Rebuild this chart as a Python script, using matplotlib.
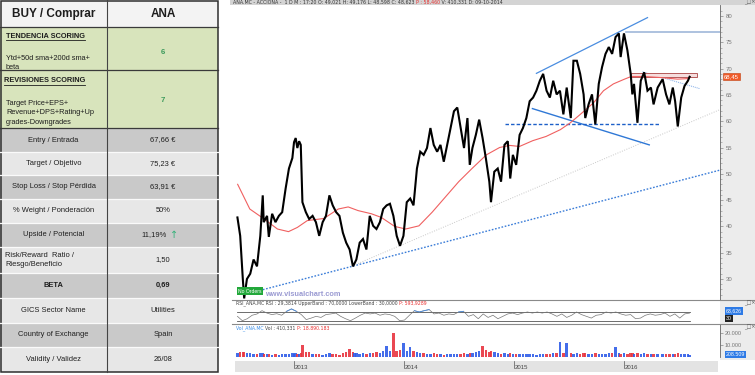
import numpy as np
import matplotlib
matplotlib.use('Agg')
import matplotlib.pyplot as plt
from matplotlib.patches import Rectangle
from matplotlib.lines import Line2D
import matplotlib.transforms as mtransforms

plt.rcParams['font.family'] = ['Liberation Sans', 'DejaVu Sans']

W, H = 755, 375

# ---------------- table data ----------------
header = ['BUY / Comprar', 'ANA']
score_titles = ['TENDENCIA SCORING', 'REVISIONES SCORING']
score_texts = ['Ytd+50d sma+200d sma+\nbeta',
               'Target Price+EPS+\nRevenue+DPS+Rating+Up\ngrades-Downgrades']
score_values = ['6', '7']
row_labels = ['Entry / Entrada', 'Target / Objetivo', 'Stop Loss / Stop Pérdida',
              '% Weight / Ponderación', 'Upside / Potencial',
              'Risk/Reward  Ratio /\nRiesgo/Beneficio', 'BETA', 'GICS Sector Name',
              'Country of Exchange', 'Validity / Validez']
row_values = ['67,66 €', '75,23 €', '63,91 €', '50%', '11,19%', '1,50', '0,69',
              'Utilities', 'Spain', '26/08']

# ---------------- price data (decimal year, close) ----------------
price_years = [
    2012.488, 2012.513, 2012.537, 2012.549, 2012.574, 2012.604, 2012.634, 2012.665, 2012.695, 2012.717,
    2012.726, 2012.756, 2012.772, 2012.802, 2012.832, 2012.863, 2012.893, 2012.924, 2012.954, 2012.985,
    2013.000, 2013.015, 2013.030, 2013.046, 2013.061, 2013.076, 2013.107, 2013.137, 2013.168, 2013.198,
    2013.228, 2013.259, 2013.289, 2013.320, 2013.350, 2013.381, 2013.411, 2013.442, 2013.472, 2013.503,
    2013.533, 2013.548, 2013.564, 2013.594, 2013.624, 2013.655, 2013.685, 2013.716, 2013.746, 2013.777,
    2013.807, 2013.838, 2013.868, 2013.899, 2013.929, 2013.959, 2013.990, 2014.020, 2014.051, 2014.081,
    2014.112, 2014.142, 2014.173, 2014.203, 2014.234, 2014.264, 2014.295, 2014.325, 2014.355, 2014.386,
    2014.416, 2014.447, 2014.477, 2014.508, 2014.538, 2014.569, 2014.590, 2014.614, 2014.645, 2014.675,
    2014.706, 2014.736, 2014.767, 2014.782, 2014.812, 2014.843, 2014.873, 2014.904, 2014.934, 2014.956,
    2014.980, 2015.010, 2015.041, 2015.071, 2015.102, 2015.132, 2015.163, 2015.193, 2015.224, 2015.254,
    2015.285, 2015.315, 2015.345, 2015.376, 2015.406, 2015.437, 2015.467, 2015.504, 2015.528, 2015.559,
    2015.589, 2015.620, 2015.635, 2015.665, 2015.696, 2015.726, 2015.757, 2015.787, 2015.818, 2015.848,
    2015.878, 2015.909, 2015.939, 2015.955, 2015.985, 2016.016, 2016.046, 2016.061, 2016.076, 2016.107,
    2016.137, 2016.168, 2016.198, 2016.229, 2016.253, 2016.290, 2016.335, 2016.366, 2016.396, 2016.427,
    2016.448, 2016.472, 2016.503, 2016.533, 2016.564, 2016.579]
closes = [
    41.7, 38.2, 29.9, 26.3, 30.0, 31.0, 33.7, 32.4, 38.2, 45.9,
    40.8, 42.0, 38.0, 42.4, 40.8, 42.0, 42.7, 47.2, 51.0, 53.0,
    56.0, 56.8, 54.9, 56.2, 55.5, 44.6, 42.7, 41.4, 42.0, 40.8,
    38.2, 40.8, 42.0, 45.9, 44.0, 42.7, 42.0, 38.8, 36.9, 35.6,
    32.4, 33.0, 33.7, 36.9, 37.6, 35.6, 42.0, 40.1, 39.5, 40.8,
    43.3, 44.0, 44.3, 42.0, 38.2, 36.3, 38.2, 44.6, 45.3, 44.0,
    51.0, 54.2, 53.6, 54.9, 58.7, 55.5, 54.2, 55.5, 52.3, 55.5,
    58.7, 61.9, 62.6, 58.7, 54.9, 60.6, 51.7, 54.9, 57.4, 60.3,
    56.8, 52.9, 48.5, 44.6, 50.4, 51.0, 48.5, 55.5, 56.2, 49.1,
    53.6, 51.7, 57.4, 58.7, 60.6, 63.8, 64.5, 65.8, 67.7, 69.0,
    65.8, 64.5, 67.7, 65.1, 65.8, 61.3, 66.4, 60.6, 71.5, 71.5,
    69.0, 65.1, 60.6, 63.2, 65.1, 59.4, 67.1, 70.3, 72.8, 74.1,
    72.8, 76.0, 76.7, 72.2, 76.7, 73.5, 69.0, 65.1, 67.1, 59.7,
    67.7, 69.3, 65.8, 66.4, 63.2, 66.4, 68.0, 65.1, 63.2, 66.4,
    63.8, 59.0, 64.5, 66.7, 67.7, 68.45]
volumes_k = [
    3.5, 4.2, 3.8, 4.5, 3.2, 3.0, 2.6, 2.8, 3.4, 3.0,
    2.5, 2.2, 2.8, 2.0, 2.4, 1.8, 2.2, 2.6, 2.4, 3.0,
    2.8, 3.2, 2.6, 2.4, 3.6, 10.0, 4.5, 3.8, 2.6, 2.2,
    2.4, 2.0, 2.6, 3.0, 2.2, 2.4, 2.0, 3.4, 3.8, 6.8,
    4.0, 3.6, 3.2, 2.8, 3.0, 2.6, 3.2, 3.6, 4.2, 3.4,
    5.0, 9.4, 4.6, 20.0, 5.2, 6.0, 12.0, 5.4, 8.0, 4.8,
    4.0, 3.6, 3.0, 2.6, 2.8, 3.2, 2.4, 2.2, 2.0, 2.6,
    2.4, 2.2, 2.6, 2.8, 3.0, 2.6, 3.4, 3.0, 4.2, 5.0,
    9.0, 5.6, 4.4, 5.2, 3.8, 3.0, 2.8, 3.2, 2.6, 3.4,
    2.8, 2.4, 2.6, 2.8, 2.4, 2.2, 2.6, 2.0, 2.4, 2.2,
    2.6, 2.8, 3.0, 3.6, 12.6, 3.2, 12.0, 3.0, 2.6, 3.2,
    2.8, 3.6, 3.4, 2.8, 2.4, 3.0, 2.6, 2.8, 2.4, 3.0,
    3.4, 8.0, 3.2, 2.8, 3.0, 2.6, 3.0, 3.4, 2.8, 3.6,
    2.8, 3.0, 2.6, 2.4, 2.8, 2.6, 2.4, 2.8, 2.6, 2.2,
    2.4, 3.0, 2.6, 2.2, 2.4, 2.0]

# 200 day moving average
ma_years = [2012.49, 2012.60, 2012.73, 2012.85, 2012.95, 2013.03, 2013.12, 2013.27, 2013.40, 2013.49,
            2013.58, 2013.70, 2013.79, 2013.91, 2014.01, 2014.13, 2014.25, 2014.37, 2014.49, 2014.61,
            2014.74, 2014.86, 2014.95, 2015.04, 2015.16, 2015.28, 2015.41, 2015.50, 2015.59, 2015.71,
            2015.80, 2015.89, 2015.99, 2016.05, 2016.17, 2016.32, 2016.47, 2016.56]
ma_values = [48.0, 43.3, 41.4, 39.5, 39.0, 39.8, 41.1, 41.5, 43.3, 43.7,
             43.0, 42.4, 41.7, 40.0, 39.5, 40.1, 42.7, 45.6, 48.5, 51.0,
             53.6, 55.0, 55.4, 55.2, 56.3, 57.1, 58.4, 59.7, 61.3, 63.5,
             65.8, 67.1, 68.0, 68.5, 68.5, 68.3, 68.0, 68.1]

# RSI (evenly spaced over the price period)
rsi = [50, 30, 39, 55, 61, 76, 65, 58, 62, 55, 73, 84, 73, 58, 35, 42, 50, 45, 58, 61,
       65, 50, 39, 30, 42, 55, 65, 61, 65, 55, 61, 58, 50, 30, 33, 55, 76, 70, 76, 81,
       61, 65, 55, 61, 58, 70, 73, 50, 58, 39, 61, 45, 55, 39, 50, 61, 65, 58, 65, 70,
       65, 70, 65, 70, 61, 50, 61, 45, 55, 70, 58, 50, 42, 55, 58, 70, 65, 70, 61, 55,
       58, 39, 42, 55, 61, 55, 58, 65, 50, 61, 42, 61, 65]
rsi_upper, rsi_lower = 70, 30

# drawn studies: (year0, price0, year1, price1)
support_long = (2012.543, 27.0, 2016.853, 50.7)
support_thin = (2013.518, 32.4, 2016.853, 62.2)
channel_top = (2015.193, 69.1, 2016.198, 79.7)
channel_bottom = (2015.157, 62.4, 2016.214, 55.5)
floor_line = (2014.913, 59.4, 2016.305, 59.4)
peak_line = (2016.000, 76.9, 2016.853, 76.9)
short_down = (2016.153, 69.4, 2016.670, 66.2)
entry_zone = (2016.052, 68.4, 2016.649, 69.2)
last_price = 68.45
years = [2013, 2014, 2015, 2016]

fig = plt.figure(figsize=(W / 100, H / 100), dpi=100)
fig.patch.set_facecolor('white')


def px_axes(x0, y0, x1, y1, **kw):
    return fig.add_axes([x0 / W, 1 - y1 / H, (x1 - x0) / W, (y1 - y0) / H], **kw)


def fig_rect(x0, y0, x1, y1, **kw):
    fig.patches.append(Rectangle((x0 / W, 1 - y1 / H), (x1 - x0) / W, (y1 - y0) / H,
                                 transform=fig.transFigure, **kw))


def fig_hline(y, x0, x1, **kw):
    fig.lines.append(Line2D([x0 / W, x1 / W], [1 - y / H, 1 - y / H],
                            transform=fig.transFigure, **kw))


renderer = fig.canvas.get_renderer()


def put_segments(x, y, segments, size):
    # consecutive pieces of text in different colours
    for s, c in segments:
        t = fig.text(x / W, 1 - y / H, s, fontsize=size, color=c, va='center', ha='left',
                     family=['DejaVu Sans'])
        x += t.get_window_extent(renderer).width


# ---------------- table ----------------
tax = fig.add_axes([0, 0, 230 / W, 1])
tax.set_xlim(0, 230)
tax.set_ylim(H, 0)
tax.axis('off')

c1, c2, right = 107, 163, 218
tax.add_patch(Rectangle((0, 0), right, 27, fc='#f3f3f3', ec='none'))
tax.add_patch(Rectangle((0, 27), right, 43, fc='#d8e4bc', ec='none'))
tax.add_patch(Rectangle((0, 70), right, 58, fc='#d8e4bc', ec='none'))
row_edges = [128, 152, 175, 199, 223, 247, 273, 298, 323, 347, 372]
for i in range(len(row_labels)):
    top, bot = row_edges[i], row_edges[i + 1]
    tax.add_patch(Rectangle((0, top), right, bot - top,
                            fc='#c9c9c9' if i % 2 == 0 else '#e7e7e7', ec='none'))
    if i > 0:
        tax.plot([0, right], [top, top], color='#fafafa', lw=0.9)
for y in [27, 70, 128]:
    tax.plot([0, right], [y, y], color='#3a3a3a', lw=0.9)
tax.plot([c1, c1], [0, 372], color='#444444', lw=0.8)
tax.add_patch(Rectangle((0.5, 0.5), right - 0.5, 371.5, fc='none', ec='#2f2f2f', lw=1.1))

txt = '#1e1e1e'
tax.text(c1 / 2, 14, header[0], ha='center', va='center', fontsize=8.5, fontweight='bold', color=txt)
tax.text(c2, 14, header[1], ha='center', va='center', fontsize=8.5, fontweight='bold', color=txt)

title_pos = [(6, 36), (4, 81)]
body_pos = [(6, 55), (6, 100)]
value_pos = [52, 100]
for (tx, ty), (bx, by), vy, t, b, v in zip(title_pos, body_pos, value_pos,
                                           score_titles, score_texts, score_values):
    h = tax.text(tx, ty, t, ha='left', va='center', fontsize=5.3, fontweight='bold', color=txt)
    bb = h.get_window_extent(renderer).transformed(tax.transData.inverted())
    tax.plot([bb.x0, bb.x1], [bb.y0 + 0.8, bb.y0 + 0.8], color=txt, lw=0.6)
    tax.text(bx, by, b, ha='left', va='top', fontsize=5.3, color=txt, linespacing=1.45)
    tax.text(c2, vy, v, ha='center', va='center', fontsize=5.6, fontweight='bold', color='#3d9a5c')

for i, (lab, val) in enumerate(zip(row_labels, row_values)):
    yc = (row_edges[i] + row_edges[i + 1]) / 2
    bold = 'bold' if lab == 'BETA' else 'normal'
    if '\n' in lab:
        tax.text(5, yc, lab, ha='left', va='center', fontsize=5.4, color=txt, linespacing=1.3)
    else:
        tax.text(c1 / 2, yc, lab, ha='center', va='center', fontsize=5.4, color=txt, fontweight=bold)
    if lab.startswith('Upside'):
        tax.text(167, yc, val, ha='right', va='center', fontsize=5.4, color=txt)
        tax.text(170, yc, '↑', ha='left', va='center', fontsize=7, color='#35b27a',
                 family=['DejaVu Sans'])
    else:
        tax.text(c2, yc, val, ha='center', va='center', fontsize=5.4, color=txt, fontweight=bold)

# ---------------- chart frame ----------------
fig_rect(230, 0, 755, 5, fc='#d4d4d4', ec='none', zorder=-1)
fig_rect(720, 5, 755, 360, fc='#ececec', ec='none', zorder=-1)
put_segments(233, 1.8, [('ANA.MC - ACCIONA -  1 D M : 17:20 O: 49,021 H: 49,176 L: 48,598 C: 48,623 ', '#333333'),
                        ('P : 58,460', '#e83030'),
                        (' V: 410,331 D: 09-10-2014', '#333333')], 3.4)
fig.text(744 / W, 1 - 2 / H, '_□×', fontsize=3.6, color='#555555', va='center', family=['DejaVu Sans'])

xlim = (2012.466, 2016.854)

# ---------------- price panel ----------------
ax = px_axes(235, 5, 720, 300)
ax.set_xlim(*xlim)
ax.set_ylim(26.0, 82.1)
for s in ['top', 'left', 'bottom']:
    ax.spines[s].set_visible(False)
ax.spines['right'].set_color('#666666')
ax.spines['right'].set_linewidth(0.6)
ax.yaxis.tick_right()
ax.set_xticks([])
ax.set_yticks(range(30, 81, 5))
ax.set_yticks(range(27, 82), minor=True)
ax.tick_params(axis='y', which='major', length=2.5, width=0.5, colors='#888888',
               labelsize=4.3, pad=1.5, labelcolor='#777777')
ax.tick_params(axis='y', which='minor', length=1.2, width=0.4, colors='#888888')


def seg(line, **kw):
    ax.plot([line[0], line[2]], [line[1], line[3]], **kw)


seg(support_long, color='#3b7dd8', lw=1.0, ls=(0, (1.2, 1.2)))
seg(support_thin, color='#c8c8c8', lw=0.7, ls=(0, (1, 1.5)))
seg(channel_top, color='#4a8de0', lw=0.9)
seg(channel_bottom, color='#2f78d6', lw=1.0)
seg(floor_line, color='#1c5fc8', lw=1.0, ls=(0, (2.5, 1.5)))
seg(peak_line, color='#9fb7d9', lw=1.2)
seg(short_down, color='#7aa7e6', lw=0.7, ls=(0, (1, 1)))
ax.add_patch(Rectangle((entry_zone[0], entry_zone[1]), entry_zone[2] - entry_zone[0],
                       entry_zone[3] - entry_zone[1], fc='#f6dede', ec='#b35a5a', lw=0.7, zorder=2))
ax.plot(ma_years, ma_values, color='#f06060', lw=0.8, zorder=3)
ax.plot(price_years, closes, color='black', lw=1.5, zorder=4, solid_joinstyle='miter')

blend = mtransforms.blended_transform_factory(ax.transAxes, ax.transData)
ax.text(1.008, last_price, '68,45', transform=blend, fontsize=4.3, color='white', va='center',
        ha='left', bbox=dict(boxstyle='square,pad=0.2', fc='#f05a28', ec='#c04010', lw=0.4),
        clip_on=False)
ax.text(0.007, 0.03, 'No Orders', transform=ax.transAxes, fontsize=3.6, color='white', va='center',
        ha='left', bbox=dict(boxstyle='square,pad=0.25', fc='#22a83a', ec='none'), zorder=6)
ax.text(0.062, 0.017, 'www.visualchart.com', transform=ax.transAxes, fontsize=5.3, color='#9a9ad2',
        va='center', ha='left', fontweight='bold', zorder=6)

fig_hline(300, 232, 755, color='#8a8a8a', lw=0.8)
fig_hline(323.5, 232, 755, color='#8a8a8a', lw=0.8)

# ---------------- RSI panel ----------------
rax = px_axes(235, 300, 720, 323)
rax.set_xlim(*xlim)
rax.set_ylim(19.4, 125)
rax.axis('off')
rsi_years = np.linspace(price_years[0], price_years[-1], len(rsi))
rsi_arr = np.array(rsi, dtype=float)
rax.plot([price_years[0], price_years[-1]], [rsi_upper, rsi_upper], color='#555555', lw=0.6)
rax.plot([price_years[0], price_years[-1]], [rsi_lower, rsi_lower], color='#555555', lw=0.6)
rax.plot(rsi_years, rsi_arr, color='#777777', lw=0.5)
rax.plot(rsi_years, np.ma.masked_where(rsi_arr < rsi_upper, rsi_arr), color='#4a8de0', lw=0.6)
rax.plot(rsi_years, np.ma.masked_where(rsi_arr > rsi_lower + 2, rsi_arr), color='#e05050', lw=0.6)
put_segments(236, 303.5, [('RSI_ANA.MC RSI : 29,3814 UpperBand : 70,0000 LowerBand : 30,0000 ', '#444444'),
                          ('P: 593,9289', '#e83030')], 3.3)
fig.text(726 / W, 1 - 311 / H, '63,626', fontsize=3.8, color='white', va='center',
         bbox=dict(boxstyle='square,pad=0.2', fc='#2e7be6', ec='none'))
fig.text(726 / W, 1 - 318.5 / H, '30', fontsize=3.8, color='white', va='center',
         bbox=dict(boxstyle='square,pad=0.2', fc='#222222', ec='none'))
fig.text(744 / W, 1 - 303 / H, '_□×', fontsize=3.6, color='#555555', va='center', family=['DejaVu Sans'])

# ---------------- volume panel ----------------
vax = px_axes(235, 324, 720, 357)
vax.set_xlim(*xlim)
vax.set_ylim(0, 27.5)
for s in ['top', 'left', 'bottom']:
    vax.spines[s].set_visible(False)
vax.spines['right'].set_color('#666666')
vax.spines['right'].set_linewidth(0.6)
vax.yaxis.tick_right()
vax.set_xticks([])
vax.set_yticks([10, 20])
vax.set_yticklabels(['10.000', '20.000'])
vax.tick_params(axis='y', length=2, width=0.5, colors='#888888', labelsize=4.0, pad=1.5,
                labelcolor='#777777')
vol_colors = ['#2f5de8' if i == 0 or closes[i] >= closes[i - 1] else '#e8343f'
              for i in range(len(closes))]
vax.bar(price_years, volumes_k, width=0.022, color=vol_colors, lw=0, alpha=0.9)
put_segments(236, 328, [('Vol_ANA.MC ', '#3a8ee8'), ('Vol : 410,331 ', '#444444'),
                        ('P: 18.890.183', '#e83030')], 3.3)
fig.text(726 / W, 1 - 354.5 / H, '208.509', fontsize=3.8, color='white', va='center',
         bbox=dict(boxstyle='square,pad=0.2', fc='#2e7be6', ec='none'))
fig.text(744 / W, 1 - 327 / H, '_□×', fontsize=3.6, color='#555555', va='center', family=['DejaVu Sans'])

# ---------------- date strip ----------------
dax = px_axes(235, 361, 718, 372, facecolor='#e3e3e3')
dax.set_xlim(*xlim)
dax.set_ylim(0, 1)
dax.set_xticks([])
dax.set_yticks([])
for s in dax.spines.values():
    s.set_visible(False)
for yr in years:
    dax.plot([yr, yr], [0.35, 1], color='#555555', lw=0.5)
    dax.text(yr + 0.006, 0.42, str(yr), fontsize=4.3, color='#444444', va='center', ha='left')

fig.savefig('out.png', dpi=100)
